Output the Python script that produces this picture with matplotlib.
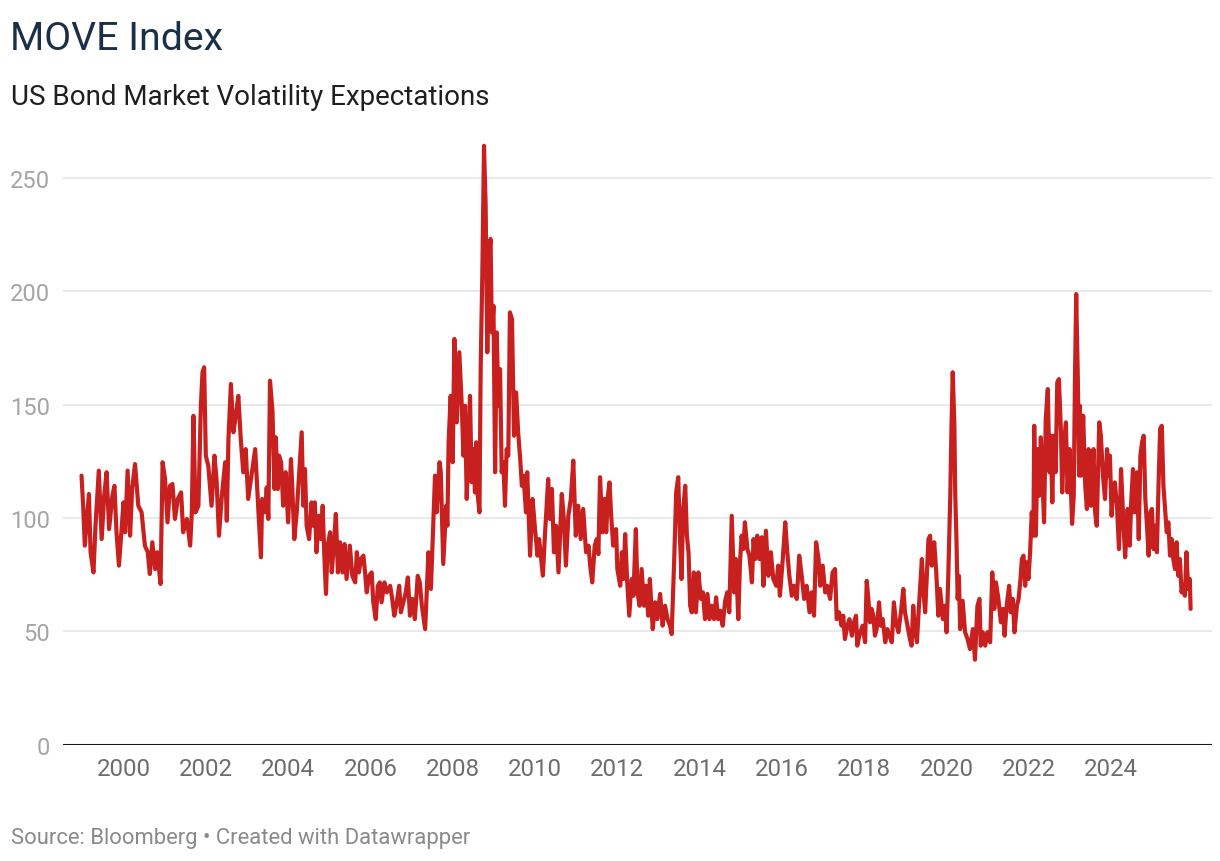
import matplotlib
matplotlib.use("Agg")
import matplotlib.pyplot as plt

plt.rcParams['font.family'] = ['Roboto', 'DejaVu Sans']

title = "MOVE Index"
subtitle = "US Bond Market Volatility Expectations"
source = "Source: Bloomberg \u2022 Created with Datawrapper"

year_ticks = [2000, 2002, 2004, 2006, 2008, 2010, 2012, 2014, 2016, 2018, 2020, 2022, 2024]
y_ticks = [0, 50, 100, 150, 200, 250]

# decimal years and MOVE index values
years_1999_2003 = [1998.98, 1999.02, 1999.06, 1999.16, 1999.20, 1999.27, 1999.32, 1999.40, 1999.47, 1999.53,
                   1999.59, 1999.65, 1999.73, 1999.78, 1999.83, 1999.89, 2000.00, 2000.04, 2000.10, 2000.16,
                   2000.21, 2000.28, 2000.36, 2000.44, 2000.52, 2000.59, 2000.64, 2000.70, 2000.77, 2000.82,
                   2000.90, 2000.95, 2001.01, 2001.07, 2001.13, 2001.19, 2001.25, 2001.32, 2001.40, 2001.45,
                   2001.54, 2001.62, 2001.66, 2001.70, 2001.75, 2001.82, 2001.88, 2001.92, 2001.96, 2002.00,
                   2002.06, 2002.14, 2002.21, 2002.26, 2002.32, 2002.39, 2002.47, 2002.51, 2002.55, 2002.61,
                   2002.67, 2002.73, 2002.79, 2002.85, 2002.91, 2002.97, 2003.03, 2003.12]
values_1999_2003 = [118.7, 105.4, 87.8, 110.6, 84.9, 76.0, 96.6, 120.9, 90.7, 109.8,
                    120.2, 95.1, 109.8, 114.2, 93.7, 79.0, 106.9, 93.7, 120.9, 92.2,
                    112.8, 123.8, 105.4, 102.5, 87.8, 84.9, 75.3, 89.3, 77.5, 84.9,
                    70.9, 124.6, 117.2, 98.1, 114.2, 115.0, 99.6, 108.4, 111.3, 93.7,
                    99.6, 87.8, 102.5, 145.1, 102.5, 105.4, 149.5, 164.3, 166.5, 127.5,
                    123.1, 105.4, 127.5, 117.2, 92.2, 109.8, 124.6, 98.8, 134.8, 159.1,
                    137.8, 145.1, 153.9, 134.8, 120.2, 130.4, 108.4, 120.2]

years_2003_2007 = [2003.20, 2003.28, 2003.34, 2003.37, 2003.44, 2003.48, 2003.52, 2003.56, 2003.62, 2003.67,
                   2003.70, 2003.75, 2003.78, 2003.83, 2003.88, 2003.94, 2004.00, 2004.07, 2004.10, 2004.15,
                   2004.21, 2004.26, 2004.33, 2004.37, 2004.41, 2004.45, 2004.51, 2004.57, 2004.61, 2004.65,
                   2004.69, 2004.75, 2004.80, 2004.84, 2004.88, 2004.92, 2004.96, 2005.02, 2005.06, 2005.11,
                   2005.16, 2005.21, 2005.26, 2005.32, 2005.37, 2005.42, 2005.50, 2005.56, 2005.63, 2005.67,
                   2005.72, 2005.77, 2005.83, 2005.87, 2005.91, 2005.97, 2006.03, 2006.07, 2006.13, 2006.18,
                   2006.23, 2006.27, 2006.34, 2006.40, 2006.48, 2006.53, 2006.58, 2006.64, 2006.70, 2006.74,
                   2006.80, 2006.86, 2006.91, 2006.96, 2007.02, 2007.08, 2007.15]
values_2003_2007 = [130.4, 102.5, 82.7, 108.4, 102.5, 113.5, 99.6, 160.6, 147.3, 112.8,
                    135.6, 112.8, 127.5, 124.6, 105.4, 120.2, 98.1, 126.0, 114.2, 90.7,
                    102.5, 117.2, 137.8, 105.4, 121.6, 96.6, 90.7, 106.9, 96.6, 106.9,
                    84.9, 101.0, 90.7, 105.4, 83.4, 66.5, 87.8, 93.7, 76.0, 87.8,
                    101.8, 76.0, 89.3, 76.0, 88.5, 73.1, 87.8, 74.5, 71.6, 84.9,
                    76.0, 81.9, 83.4, 76.0, 67.2, 74.5, 76.0, 62.8, 55.4, 70.1,
                    71.6, 62.8, 71.6, 67.2, 70.1, 64.3, 56.9, 62.8, 70.1, 58.4,
                    62.8, 67.2, 73.8, 56.9, 64.3, 55.4, 74.5]

years_2007_2010 = [2007.20, 2007.25, 2007.33, 2007.41, 2007.47, 2007.53, 2007.57, 2007.61, 2007.68, 2007.71,
                   2007.77, 2007.84, 2007.87, 2007.90, 2007.95, 2008.00, 2008.04, 2008.10, 2008.16, 2008.22,
                   2008.26, 2008.30, 2008.34, 2008.38, 2008.42, 2008.46, 2008.50, 2008.54, 2008.57, 2008.60,
                   2008.65, 2008.68, 2008.72, 2008.76, 2008.80, 2008.84, 2008.88, 2008.92, 2008.95, 2008.99,
                   2009.03, 2009.07, 2009.11, 2009.15, 2009.19, 2009.23, 2009.27, 2009.31, 2009.35, 2009.39,
                   2009.44, 2009.49, 2009.54, 2009.59, 2009.64, 2009.68, 2009.72, 2009.78, 2009.81, 2009.88,
                   2009.94, 2010.00, 2010.06, 2010.10]
values_2007_2010 = [71.6, 61.3, 51.0, 84.9, 68.7, 98.1, 118.7, 102.5, 124.6, 120.2,
                    79.7, 105.4, 96.6, 133.4, 153.9, 124.6, 179.0, 142.2, 173.1, 149.5,
                    127.5, 149.5, 108.4, 127.5, 153.9, 115.8, 130.4, 111.3, 133.4, 111.3,
                    102.5, 167.2, 208.4, 264.2, 237.8, 173.1, 215.7, 223.1, 181.9, 193.6,
                    120.2, 181.9, 149.5, 165.7, 120.2, 124.6, 105.4, 130.4, 127.5, 190.7,
                    187.8, 136.3, 155.4, 137.8, 126.0, 114.2, 118.7, 102.5, 120.2, 83.4,
                    108.4, 95.1, 83.4, 90.7]

years_2010_2014 = [2010.19, 2010.24, 2010.32, 2010.36, 2010.41, 2010.46, 2010.51, 2010.57, 2010.61, 2010.65,
                   2010.70, 2010.75, 2010.81, 2010.87, 2010.93, 2010.99, 2011.05, 2011.11, 2011.17, 2011.24,
                   2011.30, 2011.34, 2011.39, 2011.45, 2011.50, 2011.54, 2011.58, 2011.64, 2011.69, 2011.73,
                   2011.77, 2011.81, 2011.85, 2011.90, 2011.97, 2012.00, 2012.07, 2012.11, 2012.15, 2012.19,
                   2012.24, 2012.29, 2012.35, 2012.39, 2012.45, 2012.49, 2012.54, 2012.59, 2012.65, 2012.70,
                   2012.75, 2012.79, 2012.86, 2012.92, 2012.97, 2013.04, 2013.10, 2013.16, 2013.22, 2013.28,
                   2013.32, 2013.38, 2013.43, 2013.48, 2013.52, 2013.56, 2013.60, 2013.65, 2013.69, 2013.73,
                   2013.77, 2013.81, 2013.86, 2013.91, 2013.97, 2014.03, 2014.08, 2014.13, 2014.19, 2014.24,
                   2014.29, 2014.35, 2014.40, 2014.45, 2014.50, 2014.56, 2014.62, 2014.67, 2014.72]
values_2010_2014 = [74.6, 92.2, 117.2, 99.6, 112.8, 84.9, 96.6, 76.0, 93.7, 110.6,
                    99.6, 79.0, 101.0, 108.4, 125.3, 92.2, 105.4, 90.7, 104.0, 84.9,
                    87.8, 79.0, 71.6, 87.8, 90.7, 84.1, 118.0, 93.7, 108.4, 93.7,
                    109.8, 115.7, 101.0, 87.8, 95.1, 77.5, 70.1, 84.9, 73.1, 92.9,
                    71.6, 56.9, 73.1, 65.7, 95.1, 67.2, 61.3, 77.5, 61.3, 70.1,
                    56.9, 73.1, 51.0, 62.8, 55.4, 66.5, 52.5, 61.3, 55.4, 52.5,
                    48.8, 80.5, 111.3, 118.0, 92.2, 73.1, 104.0, 114.2, 92.2, 84.9,
                    61.3, 58.4, 76.0, 58.4, 76.0, 64.3, 67.2, 55.4, 66.5, 55.4,
                    61.3, 55.4, 65.0, 55.4, 59.1, 52.5, 63.5, 67.2, 58.4]

years_2014_2020 = [2014.78, 2014.84, 2014.88, 2014.94, 2014.98, 2015.02, 2015.06, 2015.10, 2015.16, 2015.21,
                   2015.27, 2015.31, 2015.35, 2015.40, 2015.45, 2015.51, 2015.55, 2015.61, 2015.67, 2015.73,
                   2015.79, 2015.86, 2015.91, 2015.95, 2016.02, 2016.08, 2016.13, 2016.18, 2016.24, 2016.29,
                   2016.36, 2016.42, 2016.48, 2016.54, 2016.60, 2016.67, 2016.72, 2016.78, 2016.83, 2016.89,
                   2016.93, 2016.99, 2017.05, 2017.10, 2017.17, 2017.23, 2017.29, 2017.33, 2017.39, 2017.45,
                   2017.49, 2017.53, 2017.59, 2017.64, 2017.70, 2017.75, 2017.80, 2017.83, 2017.90, 2017.96,
                   2018.02, 2018.06, 2018.10, 2018.14, 2018.18, 2018.22, 2018.26, 2018.30, 2018.36, 2018.40,
                   2018.45, 2018.51, 2018.56, 2018.61, 2018.67, 2018.72, 2018.77, 2018.83, 2018.89, 2018.95,
                   2018.99, 2019.05, 2019.11, 2019.15, 2019.19, 2019.23, 2019.28, 2019.32, 2019.36, 2019.40,
                   2019.44, 2019.48, 2019.52, 2019.56, 2019.60, 2019.64, 2019.70, 2019.75, 2019.80, 2019.84,
                   2019.91, 2019.96, 2020.00, 2020.04, 2020.09, 2020.12, 2020.15, 2020.19, 2020.21, 2020.24,
                   2020.27, 2020.30]
values_2014_2020 = [101.0, 67.2, 81.9, 55.4, 80.5, 92.2, 86.3, 98.1, 86.3, 83.4,
                    71.6, 90.7, 81.9, 92.2, 81.9, 91.5, 70.1, 94.4, 74.5, 84.9,
                    73.1, 70.1, 79.0, 65.7, 81.9, 98.1, 84.9, 74.5, 65.7, 70.1,
                    64.3, 83.4, 74.5, 64.3, 70.1, 58.4, 67.2, 56.9, 89.3, 81.9,
                    70.1, 79.0, 67.2, 70.1, 64.3, 76.0, 77.5, 55.4, 58.4, 52.5,
                    56.9, 46.6, 52.5, 55.4, 48.1, 54.0, 56.9, 43.7, 49.6, 52.5,
                    45.2, 72.3, 64.3, 54.0, 59.9, 56.9, 48.1, 51.0, 62.8, 52.5,
                    55.4, 45.2, 51.0, 48.1, 45.2, 62.8, 54.0, 49.6, 58.4, 68.7,
                    58.4, 52.5, 46.6, 43.7, 61.3, 51.0, 45.2, 58.4, 70.1, 81.9,
                    67.2, 58.4, 74.5, 90.7, 92.2, 79.0, 89.3, 76.0, 56.9, 68.7,
                    55.4, 61.3, 49.6, 73.1, 109.8, 140.7, 164.3, 140.7, 111.3, 90.7,
                    64.3, 74.5]

years_2020_2023 = [2020.33, 2020.39, 2020.45, 2020.51, 2020.57, 2020.64, 2020.69, 2020.75, 2020.80, 2020.83,
                   2020.88, 2020.94, 2020.99, 2021.06, 2021.11, 2021.16, 2021.20, 2021.26, 2021.32, 2021.37,
                   2021.41, 2021.46, 2021.52, 2021.56, 2021.61, 2021.65, 2021.71, 2021.75, 2021.79, 2021.83,
                   2021.87, 2021.91, 2021.95, 2021.99, 2022.03, 2022.07, 2022.11, 2022.13, 2022.17, 2022.21,
                   2022.25, 2022.29, 2022.33, 2022.37, 2022.41, 2022.46, 2022.50, 2022.53, 2022.57, 2022.60,
                   2022.65, 2022.69, 2022.73, 2022.78, 2022.81, 2022.85, 2022.90, 2022.94, 2022.99, 2023.05,
                   2023.09, 2023.12, 2023.15, 2023.19, 2023.22]
values_2020_2023 = [51.0, 63.5, 49.6, 46.6, 42.2, 51.0, 37.5, 61.3, 64.3, 43.7,
                    49.6, 43.7, 49.6, 45.2, 76.0, 59.9, 71.6, 64.3, 54.0, 59.9,
                    48.1, 61.3, 70.1, 58.4, 64.3, 49.6, 61.3, 64.3, 71.6, 81.9,
                    83.4, 70.1, 80.5, 73.1, 84.9, 102.5, 92.2, 140.7, 92.2, 130.4,
                    109.8, 135.6, 117.2, 98.1, 143.6, 156.9, 120.2, 136.3, 106.9, 136.3,
                    120.2, 159.9, 161.3, 137.8, 111.3, 131.9, 142.2, 111.3, 130.4, 97.4,
                    109.8, 161.3, 198.8, 161.3, 118.7]

years_2023_2025 = [2023.24, 2023.27, 2023.32, 2023.37, 2023.41, 2023.45, 2023.51, 2023.57, 2023.61, 2023.65,
                   2023.71, 2023.75, 2023.80, 2023.85, 2023.90, 2023.94, 2023.97, 2024.01, 2024.05, 2024.09,
                   2024.14, 2024.19, 2024.24, 2024.30, 2024.34, 2024.40, 2024.45, 2024.49, 2024.53, 2024.57,
                   2024.63, 2024.67, 2024.71, 2024.75, 2024.79, 2024.83, 2024.87, 2024.91, 2024.95, 2024.99,
                   2025.03, 2025.07, 2025.11, 2025.15, 2025.19, 2025.23, 2025.27, 2025.31, 2025.35, 2025.39,
                   2025.43, 2025.47, 2025.51, 2025.55, 2025.59, 2025.63, 2025.67, 2025.71, 2025.75, 2025.79,
                   2025.83, 2025.87, 2025.91, 2025.93]
values_2023_2025 = [149.5, 118.7, 145.1, 114.2, 104.0, 130.4, 105.4, 130.4, 102.5, 96.6,
                    142.2, 136.3, 118.7, 108.4, 130.4, 118.7, 127.5, 101.0, 112.8, 115.7,
                    105.4, 86.3, 121.6, 96.6, 82.7, 104.0, 87.8, 108.4, 121.6, 102.5,
                    120.2, 90.7, 127.5, 133.4, 136.3, 108.4, 96.6, 83.4, 102.5, 104.0,
                    86.3, 96.6, 84.9, 114.2, 139.3, 140.7, 114.2, 104.0, 93.7, 98.1,
                    83.4, 90.7, 81.9, 77.5, 89.3, 74.5, 81.9, 67.2, 70.1, 65.7,
                    84.9, 68.7, 73.1, 59.9]

years = (years_1999_2003 + years_2003_2007 + years_2007_2010 + years_2010_2014
         + years_2014_2020 + years_2020_2023 + years_2023_2025)
values = (values_1999_2003 + values_2003_2007 + values_2007_2010 + values_2010_2014
          + values_2014_2020 + values_2020_2023 + values_2023_2025)

W, H = 1220, 862
fig = plt.figure(figsize=(W / 100, H / 100), dpi=100)
fig.patch.set_facecolor('white')

ax_left, ax_right = 63, 1212
ax_bottom, ax_top = 745.7, 140
ax = fig.add_axes([ax_left / W, (H - ax_bottom) / H, (ax_right - ax_left) / W, (ax_bottom - ax_top) / H])
ax.set_xlim(1998.53, 2026.45)
ax.set_ylim(0, 267.2)

for s in ax.spines.values():
    s.set_visible(False)

ax.set_yticks(y_ticks)
ax.set_yticklabels([str(v) for v in y_ticks])
ax.yaxis.grid(True, color='#e3e3e3', linewidth=1.1, zorder=0)
ax.set_axisbelow(True)
ax.axhline(0, color='#1a1a1a', linewidth=1.5, zorder=3)

ax.set_xticks(year_ticks)
ax.set_xticklabels([str(y) for y in year_ticks])
ax.tick_params(axis='x', length=0, pad=9, labelsize=17.3, labelcolor='#6d6d6d')
ax.tick_params(axis='y', length=0, pad=9.5, labelsize=17, labelcolor='#a5a5a5')

ax.plot(years, values, color='#c8201f', linewidth=3.0, solid_joinstyle='round',
        solid_capstyle='round', zorder=4, clip_on=False)

fig.text(10 / W, 1 - 50 / H, title, fontsize=28.3, color='#1b2f47', va='baseline', ha='left')
fig.text(11 / W, 1 - 105 / H, subtitle, fontsize=20, color='#1f1f1f', va='baseline', ha='left')
fig.text(11 / W, 1 - 844 / H, source, fontsize=15.8, color='#8a8a8a', va='baseline', ha='left')

fig.savefig('out.png', dpi=100, facecolor='white')
